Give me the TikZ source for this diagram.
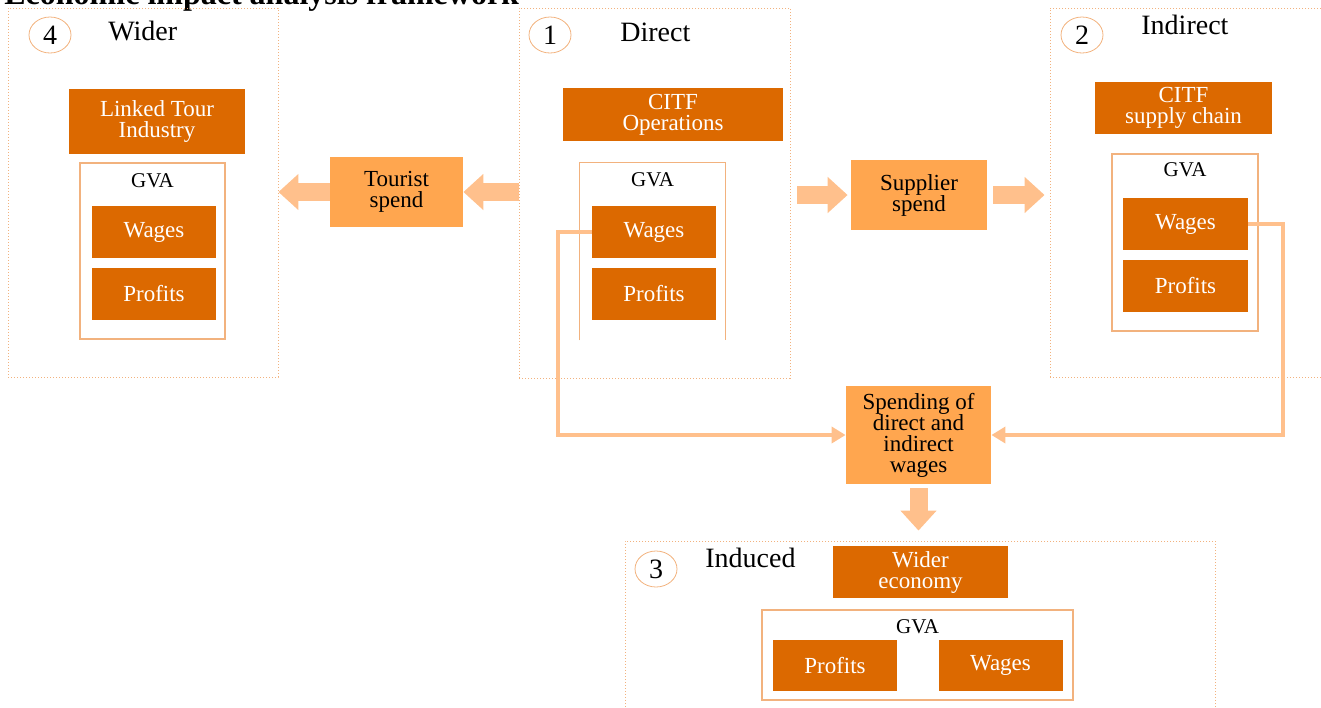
\documentclass[tikz,border=0pt]{standalone}
\usepackage{fontspec}
\setmainfont{Liberation Serif}
\usetikzlibrary{arrows.meta,positioning,shapes.geometric}
\definecolor{pwcorange}{HTML}{DC6900}
\definecolor{spendfill}{HTML}{FFA64F}
\definecolor{arrowpeach}{HTML}{FFC08C}
\definecolor{framepeach}{HTML}{F2B27E}

\begin{document}
\begin{tikzpicture}[x=0.5pt,y=-0.5pt,node distance=4.5pt,
  every node/.style={inner sep=0pt},
  stageframe/.style={draw=framepeach,dash pattern=on 0.6pt off 0.9pt,line width=0.45pt},
  stagenum/.style={ellipse,draw=framepeach,line width=0.4pt,minimum width=21pt,minimum height=18pt,font=\fontsize{14}{14}\selectfont},
  stagename/.style={anchor=west,font=\fontsize{14}{14}\selectfont},
  darkbox/.style={fill=pwcorange,text=white,align=center,font=\fontsize{11.5}{10.5}\selectfont},
  gvapart/.style={darkbox,minimum width=62pt,minimum height=26pt},
  spendbox/.style={fill=spendfill,align=center,font=\fontsize{11.5}{10.5}\selectfont},
  gva/.style={draw=framepeach,line width=0.7pt},
  gvalabel/.style={font=\fontsize{10.5}{10.5}\selectfont},
  flow/.style={draw=arrowpeach,line width=9pt,-{Triangle[length=10pt,width=17.5pt]}},
  wire/.style={draw=arrowpeach,line width=2pt,-{Triangle[length=7pt,width=8pt]}}]
  \useasboundingbox (0,0) rectangle (1321,707);

  \node[anchor=base west,font=\fontsize{16}{16}\selectfont\bfseries] (title) at (4,4) {Economic impact analysis framework};

  % the four stages
  \node[stageframe,minimum width=135pt,minimum height=184.5pt] (fr4) at (143,192.5) {};
  \node[stageframe,minimum width=135.5pt,minimum height=185pt] (fr1) at (654.5,193) {};
  \node[stageframe,minimum width=145pt,minimum height=184.5pt] (fr2) at (1195,192.5) {};
  \node[stageframe,minimum width=295pt,minimum height=89.5pt] (fr3) at (920,630.5) {};

  \node[stagenum] (n4) at (50,35) {4};
  \node[stagenum] (n1) at (550,35) {1};
  \node[stagenum] (n2) at (1082,35) {2};
  \node[stagenum] (n3) at (656,569) {3};
  \node[stagename] (s4) at (108,31) {Wider};
  \node[stagename] (s1) at (620,32) {Direct};
  \node[stagename] (s2) at (1141,25) {Indirect};
  \node[stagename] (s3) at (705,558) {Induced};

  % 4: wider
  \node[darkbox,minimum width=88pt,minimum height=32.5pt] (ltour) at (157,121.5) {Linked Tour\\Industry};
  \node[gva,minimum width=72.5pt,minimum height=88pt] (gva4) at (152.5,251) {};
  \node[gvalabel] (g4) at (152.5,181) {GVA};
  \node[gvapart] (wag4) at (154,232) {Wages};
  \node[gvapart,below=of wag4] (prof4) {Profits};

  % 1: direct
  \node[darkbox,minimum width=110pt,minimum height=26.5pt] (citfop) at (673,114.5) {CITF\\Operations};
  \node[minimum width=72.5pt,minimum height=88.5pt] (gva1) at (652.5,251.5) {};
  \draw[gva] (gva1.south west) -- (gva1.north west) -- (gva1.north east) -- (gva1.south east);
  \node[gvalabel] (g1) at (652.5,180) {GVA};
  \node[gvapart] (wag1) at (654,232) {Wages};
  \node[gvapart,below=of wag1] (prof1) {Profits};

  % 2: indirect
  \node[darkbox,minimum width=88.5pt,minimum height=26pt] (citfsc) at (1183.5,108) {CITF\\supply chain};
  \node[gva,minimum width=73pt,minimum height=88.5pt] (gva2) at (1185,242.5) {};
  \node[gvalabel] (g2) at (1185,170) {GVA};
  \node[gvapart,minimum width=62.5pt] (wag2) at (1185.5,224) {Wages};
  \node[gvapart,minimum width=62.5pt,below=of wag2] (prof2) {Profits};

  % 3: induced
  \node[darkbox,minimum width=87.5pt,minimum height=26pt] (wecon) at (920.5,572) {Wider\\economy};
  \node[gva,minimum width=155.5pt,minimum height=45pt] (gva3) at (917.5,655) {};
  \node[gvalabel] (g3) at (917.5,627) {GVA};
  \node[gvapart,minimum height=25.5pt] (prof3) at (835,665.5) {Profits};
  \node[gvapart,minimum height=25.5pt] (wag3) at (1000.5,665.5) {Wages};

  % spending between stages
  \node[spendbox,minimum width=66.5pt,minimum height=35pt] (tour) at (396.5,192) {Tourist\\spend};
  \node[spendbox,minimum width=68pt,minimum height=35pt] (supp) at (919,195) {Supplier\\spend};
  \node[spendbox,minimum width=72.5pt,minimum height=49pt] (spend) at (918.5,435) {Spending of\\direct and\\indirect\\wages};

  \draw[flow] (fr1.west |- tour.east) -- (tour.east);
  \draw[flow] (tour.west) -- (fr4.east |- tour.west);
  \draw[flow,shorten <=3.5pt,shorten >=1.5pt] (fr1.east |- supp.west) -- (supp.west);
  \draw[flow,shorten <=3pt,shorten >=2.5pt] (supp.east) -- (fr2.west |- supp.east);
  \draw[flow,shorten <=2pt,shorten >=5pt] (spend.south) -- (spend.south |- fr3.north);
  \draw[wire] (wag1.west) -- ++(-34,0) |- (spend.west);
  \draw[wire] (wag2.east) -- ++(35,0) |- (spend.east);
\end{tikzpicture}
\end{document}
